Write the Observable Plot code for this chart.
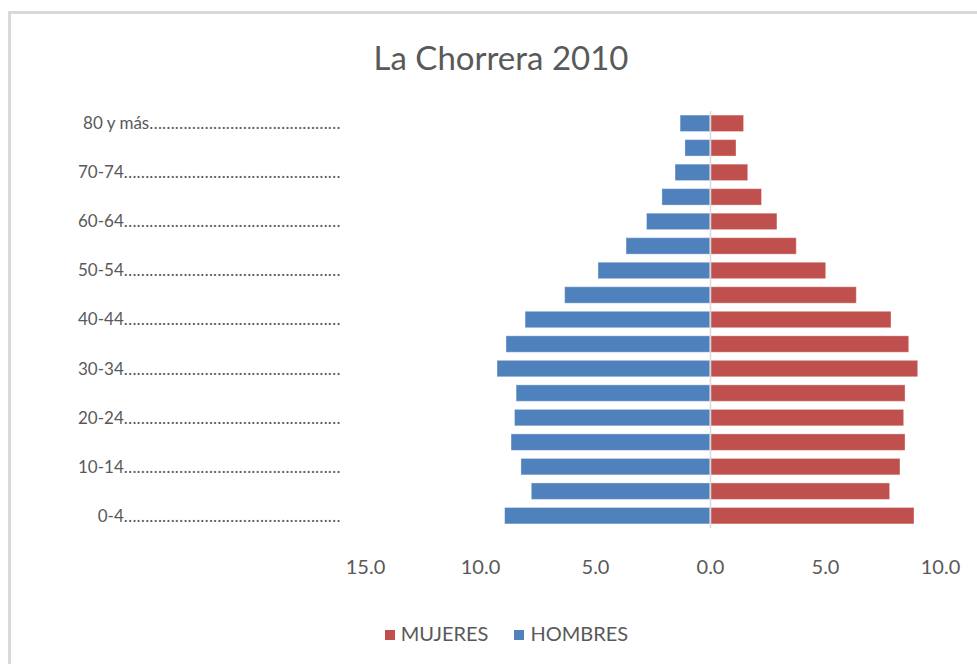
<!DOCTYPE html>
<html>
<head>
<meta charset="utf-8">
<script src="https://cdn.jsdelivr.net/npm/d3@7"></script>
<script src="https://cdn.jsdelivr.net/npm/@observablehq/plot@0.6"></script>
<style>
  html, body { margin: 0; padding: 0; background: #fff; }
  body { width: 977px; height: 664px; overflow: hidden; position: relative; font-family: Lato, "Open Sans", sans-serif; color: #595959; }
  #frame { position: absolute; left: 8px; top: 11px; right: -10px; bottom: -10px; border-left: 3px solid #d9d9d9; border-top: 3px solid #d9d9d9; }
  #title { position: absolute; left: 0; top: 0; width: 1002px; height: 85px; line-height: 114px; text-align: center; font-size: 33px; color: #595959; }
  #chart { position: absolute; left: 0; top: 85px; }
  #legend { position: absolute; left: 0; top: 620px; width: 1013px; text-align: center; font-size: 20px; line-height: 26px; color: #595959; }
  #legend span.sw { display: inline-block; width: 10px; height: 10px; margin-right: 6px; vertical-align: 1px; }
  #legend span.item { margin: 0 13px; }
</style>
</head>
<body>
<div id="frame"></div>
<div id="title">La Chorrera 2010</div>
<div id="chart"></div>
<div id="legend"></div>
<script>
const groups = ["0-4","5-9","10-14","15-19","20-24","25-29","30-34","35-39","40-44","45-49","50-54","55-59","60-64","65-69","70-74","75-79","80 y más"];
const hombres = [8.93,7.77,8.22,8.65,8.50,8.43,9.26,8.87,8.04,6.32,4.87,3.65,2.76,2.09,1.52,1.09,1.30];
const mujeres = [8.87,7.81,8.26,8.48,8.42,8.48,9.03,8.64,7.87,6.36,5.03,3.75,2.91,2.24,1.64,1.13,1.46];
const labeledGroups = ["0-4","10-14","20-24","30-34","40-44","50-54","60-64","70-74","80 y más"];
const xTicks = [-15,-10,-5,0,5,10];
const seriesNames = ["MUJERES","HOMBRES"];
const seriesColors = ["#C0504D","#4F81BD"];

const rows = [];
groups.forEach((g, i) => {
  rows.push({group: g, sex: "HOMBRES", value: -hombres[i]});
  rows.push({group: g, sex: "MUJERES", value: mujeres[i]});
});

// leader dots after each category label
const ctx = document.createElement("canvas").getContext("2d");
ctx.font = "17px Lato";
const dotW = ctx.measureText("…").width;
function leader(label) {
  const tw = ctx.measureText(label).width;
  const avail = Math.min(214, 260 - tw);
  const n = Math.max(1, Math.round(avail / dotW));
  return label + "…".repeat(n);
}

const chart = Plot.plot({
  width: 977,
  height: 510,
  marginLeft: 365,
  marginRight: 37,
  marginTop: 22,
  marginBottom: 63,
  style: {fontFamily: "Lato, 'Open Sans', sans-serif", fontSize: "17px", color: "#595959", background: "transparent"},
  x: {domain: [-15, 10], ticks: xTicks, tickFormat: d => Math.abs(d).toFixed(1), label: null},
  y: {domain: groups.slice().reverse(), padding: 0.33, round: false, label: null},
  color: {domain: seriesNames, range: seriesColors},
  marks: [
    Plot.barX(rows, {x: "value", y: "group", fill: "sex", stroke: "#ffffff", strokeOpacity: 0.35, strokeWidth: 1}),
    Plot.ruleX([0], {stroke: "#d9d9d9", strokeWidth: 1.5, insetTop: 4, insetBottom: 4}),
    Plot.axisX({ticks: xTicks, tickFormat: d => Math.abs(d).toFixed(1), tickSize: 0, tickPadding: 27, fontSize: 20, fill: "#595959", label: null, style: {letterSpacing: "1px"}}),
    Plot.axisY({ticks: labeledGroups, tickFormat: leader, tickSize: 0, tickPadding: 25, fontSize: 17, fill: "#595959", label: null})
  ]
});
document.getElementById("chart").appendChild(chart);

const legend = document.getElementById("legend");
seriesNames.forEach((n, i) => {
  const item = document.createElement("span");
  item.className = "item";
  const sw = document.createElement("span");
  sw.className = "sw";
  sw.style.background = seriesColors[i];
  item.appendChild(sw);
  item.appendChild(document.createTextNode(n));
  legend.appendChild(item);
});
</script>
</body>
</html>
